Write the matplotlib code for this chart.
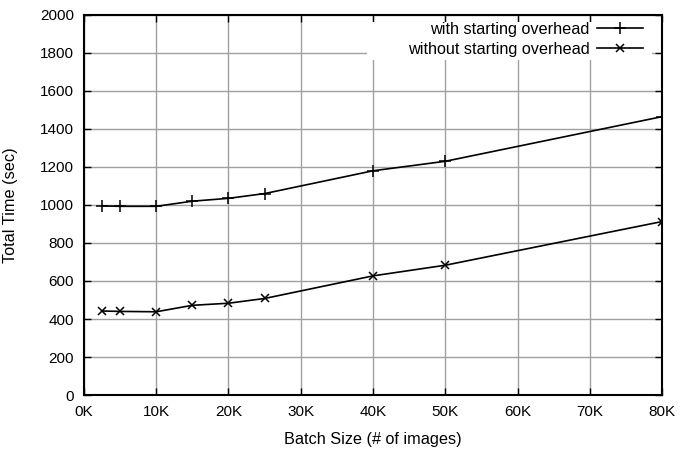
import matplotlib
matplotlib.use("Agg")
import matplotlib.pyplot as plt
from matplotlib.patches import Rectangle

# batch sizes in thousands of images
batch_k = [2.5, 5, 10, 15, 20, 25, 40, 50, 80]
with_overhead = [995, 993, 993, 1020, 1035, 1060, 1180, 1230, 1465]
without_overhead = [442, 440, 438, 472, 483, 508, 627, 683, 913]

x_ticks = [0, 10, 20, 30, 40, 50, 60, 70, 80]
y_ticks = [0, 200, 400, 600, 800, 1000, 1200, 1400, 1600, 1800, 2000]

plt.rcParams["font.family"] = ["Liberation Sans", "DejaVu Sans"]
plt.rcParams["font.size"] = 11

fig = plt.figure(figsize=(6.82, 4.53), dpi=100)
ax = fig.add_axes([0.123, 0.128, 0.848, 0.839])

ax.plot(batch_k, with_overhead, color="black", lw=1.2, marker="+",
        ms=8, mew=1.1, label="with starting overhead")
ax.plot(batch_k, without_overhead, color="black", lw=1.2, marker="x",
        ms=6, mew=1.1, label="without starting overhead")

ax.set_xlim(0, 80)
ax.set_ylim(0, 2000)
ax.set_xticks(x_ticks)
ax.set_xticklabels([f"{v}K" for v in x_ticks])
ax.set_yticks(y_ticks)
ax.grid(True, color="#a0a0a0", lw=1.0)
ax.set_axisbelow(True)
ax.tick_params(direction="in", top=True, right=True, length=5, width=1.0,
               pad=7, colors="black")
for s in ax.spines.values():
    s.set_linewidth(1.5)

ax.set_xlabel("Batch Size (# of images)", fontsize=11.7)
ax.set_ylabel("Total Time (sec)", fontsize=11.7)
ax.xaxis.set_label_coords(0.5, -0.097)
ax.yaxis.set_label_coords(-0.114, 0.5)

# white key box hiding the grid behind the legend (gnuplot style)
ax.add_patch(Rectangle((0.490, 0.882), 0.493, 0.100, transform=ax.transAxes,
                       facecolor="white", edgecolor="none", zorder=1))

leg = ax.legend(loc="upper right", bbox_to_anchor=(0.967, 0.981),
                markerfirst=False, frameon=False, handlelength=2.85,
                handletextpad=0.45, labelspacing=0.3, borderpad=0,
                borderaxespad=0, fontsize=11.7)

fig.savefig("out.png", dpi=100)
